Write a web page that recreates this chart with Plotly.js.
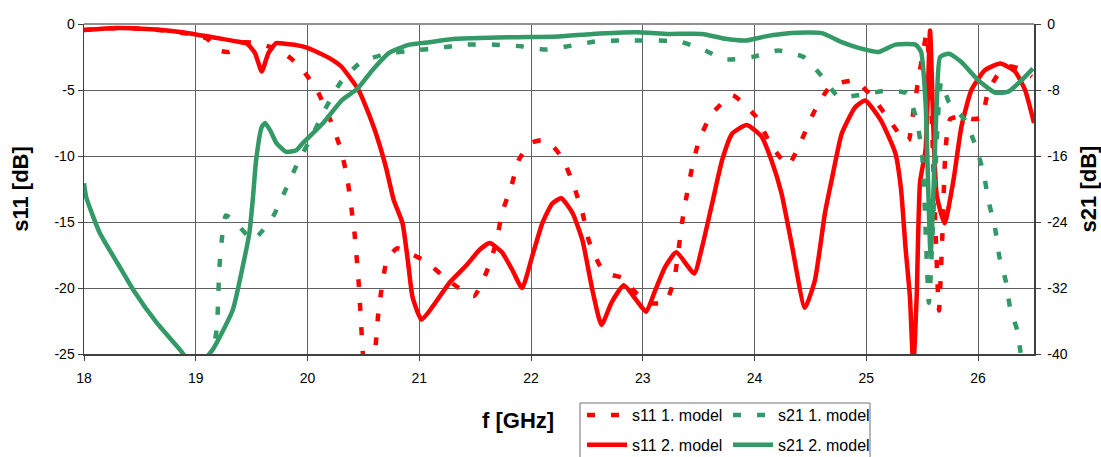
<!DOCTYPE html>
<html>
<head>
<meta charset="utf-8">
<script src="https://cdn.plot.ly/plotly-3.0.1.min.js"></script>
<style>html,body{margin:0;padding:0;background:#fff;}#chart{width:1101px;height:457px;}</style>
</head>
<body>
<div id="chart"></div>
<script>
// ---- data ----
const seriesNames = ["s11 1. model", "s21 1. model", "s11 2. model", "s21 2. model"];

const s11m1_f = [18, 18.3, 18.6, 18.9, 19.1, 19.2, 19.3, 19.42, 19.54, 19.65, 19.75, 19.85, 19.95, 20.09, 20.21, 20.29, 20.35, 20.42, 20.46, 20.49, 20.52, 20.58, 20.61, 20.63, 20.66, 20.71, 20.8, 20.9, 21.06, 21.27, 21.49, 21.61, 21.69, 21.74, 21.82, 21.89, 22.0, 22.1, 22.2, 22.29, 22.38, 22.46, 22.52, 22.63, 22.72, 22.81, 22.92, 23.03, 23.2, 23.28, 23.35, 23.39, 23.44, 23.5, 23.61, 23.8, 24.01, 24.15, 24.3, 24.42, 24.53, 24.68, 24.9, 25.05, 25.2, 25.35, 25.38, 25.42, 25.46, 25.51, 25.54, 25.58, 25.62, 25.65, 25.68, 25.71, 25.75, 25.85, 25.95, 26.03, 26.09, 26.18, 26.27, 26.38, 26.48];
const s11m1_v = [-0.45, -0.3, -0.4, -0.7, -1.1, -2.0, -2.1, -1.4, -1.45, -1.7, -2.0, -2.6, -3.4, -5.1, -7.4, -9.3, -11.4, -15.8, -19.9, -24.2, -27, -27, -24.3, -22.2, -20.2, -17.9, -17.0, -17.3, -18.0, -19.5, -20.6, -18.6, -16.5, -14.3, -12.4, -10.3, -9.0, -8.8, -9.3, -10.3, -12.2, -14.3, -16.5, -18.5, -19.0, -19.2, -20.2, -21.1, -21.1, -19.4, -15.1, -13.1, -10.9, -8.9, -6.9, -5.4, -7.0, -9.2, -10.7, -8.8, -6.7, -4.7, -4.3, -5.5, -7.2, -8.9, -8.8, -6.7, -4.5, -2.0, -0.7, -6.0, -16.0, -21.7, -16.0, -9.3, -7.2, -7.0, -7.2, -7.1, -5.1, -3.8, -3.2, -3.4, -4.0];

const s21m1_f = [19.14, 19.19, 19.2, 19.21, 19.23, 19.27, 19.36, 19.51, 19.6, 19.69, 19.8, 19.91, 20.05, 20.17, 20.3, 20.48, 20.71, 20.96, 21.18, 21.42, 21.67, 21.91, 22.13, 22.37, 22.59, 22.83, 23.08, 23.32, 23.54, 23.74, 23.98, 24.21, 24.44, 24.6, 24.75, 24.95, 25.17, 25.36, 25.45, 25.5, 25.56, 25.61, 25.67, 25.74, 25.88, 25.97, 26.05, 26.09, 26.15, 26.19, 26.25, 26.29, 26.35, 26.38, 26.42];
const s21m1_v = [-41, -36.7, -33.5, -29.8, -26.5, -23.2, -24.1, -26.2, -25.0, -23.4, -20.2, -16.9, -13.3, -10.0, -7.0, -4.6, -3.6, -3.2, -2.9, -2.5, -2.5, -2.7, -3.1, -2.6, -2.1, -2.0, -2.0, -2.1, -3.1, -4.3, -4.0, -3.2, -4.0, -6.3, -8.8, -8.6, -8.1, -8.4, -11.6, -16.0, -33.8, -20.0, -7.0, -9.5, -11.6, -14.5, -18.1, -21.3, -24.6, -28.2, -31.3, -34.7, -37.1, -39.8, -42];

const s11m2_f = [18, 18.3, 18.6, 18.86, 19.15, 19.35, 19.46, 19.53, 19.59, 19.65, 19.72, 19.8, 19.9, 20.0, 20.08, 20.2, 20.3, 20.45, 20.5, 20.6, 20.7, 20.77, 20.85, 20.9, 20.94, 21.02, 21.12, 21.27, 21.42, 21.54, 21.63, 21.74, 21.83, 21.92, 22.01, 22.1, 22.19, 22.27, 22.37, 22.46, 22.55, 22.63, 22.72, 22.83, 22.94, 23.03, 23.11, 23.2, 23.3, 23.46, 23.53, 23.62, 23.71, 23.8, 23.93, 24.06, 24.15, 24.24, 24.33, 24.45, 24.54, 24.63, 24.69, 24.78, 24.9, 24.99, 25.13, 25.26, 25.31, 25.35, 25.39, 25.42, 25.45, 25.48, 25.53, 25.57, 25.6, 25.63, 25.7, 25.78, 25.85, 25.94, 26.06, 26.2, 26.33, 26.42, 26.5];
const s11m2_v = [-0.45, -0.3, -0.4, -0.6, -1.0, -1.3, -1.5, -2.2, -3.6, -2.2, -1.45, -1.5, -1.6, -1.8, -2.1, -2.6, -3.2, -4.9, -5.8, -8.0, -10.8, -13.3, -15.1, -18.1, -20.7, -22.4, -21.4, -19.6, -18.3, -17.1, -16.6, -17.3, -18.6, -20.0, -17.6, -15.1, -13.6, -13.2, -14.3, -16.4, -20.2, -22.8, -21.1, -19.8, -20.9, -21.8, -20.2, -18.4, -17.3, -18.9, -16.9, -13.6, -10.3, -8.3, -7.65, -8.5, -10.3, -12.8, -16.6, -21.5, -19.4, -14.3, -11.8, -8.3, -6.3, -5.8, -7.3, -9.8, -12.5, -16.9, -20.7, -26, -20.7, -12.0, -9.5, -0.5, -8.0, -13.0, -15.1, -11.8, -7.8, -5.0, -3.5, -3.0, -3.6, -5.0, -7.5];

const s21m2_f = [18, 18.02, 18.14, 18.3, 18.44, 18.65, 18.86, 18.95, 19.05, 19.15, 19.33, 19.42, 19.48, 19.51, 19.54, 19.59, 19.62, 19.67, 19.72, 19.81, 19.9, 19.96, 20.14, 20.31, 20.45, 20.58, 20.73, 20.91, 21.09, 21.33, 21.83, 22.25, 22.55, 22.94, 23.23, 23.53, 23.74, 23.92, 24.1, 24.33, 24.6, 24.78, 24.93, 25.02, 25.11, 25.26, 25.44, 25.49, 25.53, 25.575, 25.63, 25.66, 25.74, 25.85, 26.0, 26.15, 26.27, 26.39, 26.49];
const s21m2_v = [-19.3, -21.0, -25.3, -29.0, -32.2, -36.2, -39.5, -41, -41, -39.5, -34.7, -29.4, -25.3, -21.3, -16.5, -12.5, -12.0, -13.0, -14.4, -15.5, -15.3, -14.4, -12.0, -9.2, -7.8, -5.6, -3.5, -2.5, -2.2, -1.8, -1.6, -1.5, -1.2, -1.0, -1.2, -1.2, -1.8, -2.0, -1.5, -1.1, -1.1, -2.2, -2.9, -3.2, -3.4, -2.5, -2.5, -3.4, -9.6, -28, -9.6, -4.0, -3.6, -4.6, -6.8, -8.3, -8.2, -6.8, -5.4];

const xTicks = [18, 19, 20, 21, 22, 23, 24, 25, 26];
const y1Ticks = [0, -5, -10, -15, -20, -25];
const y2Ticks = [0, -8, -16, -24, -32, -40];

// ---- styling ----
const RED = "#FF0000", GREEN = "#339966";
const FONT = "Arial, 'Liberation Sans', sans-serif";
const DASH = "8px,16px";

function tr(name, f, v, color, dash, yaxis, legend, group) {
  return {
    type: "scatter", mode: "lines", name: name, x: f, y: v, yaxis: yaxis,
    legend: legend, legendgroup: group,
    line: {color: color, width: 4.5, dash: dash, shape: "spline", smoothing: 0.5},
    hoverinfo: "skip"
  };
}

const data = [
  tr(seriesNames[0], s11m1_f, s11m1_v, RED, DASH, "y", "legend", "a"),
  tr(seriesNames[2], s11m2_f, s11m2_v, RED, "solid", "y", "legend", "b"),
  tr(seriesNames[1], s21m1_f, s21m1_v, GREEN, DASH, "y2", "legend2", "c"),
  tr(seriesNames[3], s21m2_f, s21m2_v, GREEN, "solid", "y2", "legend2", "d")
];

const L = 84, R = 1034, T = 24, B = 354, W = 1101, H = 457;
const px = x => (x - L) / (R - L);
const py = y => (B - y) / (B - T);

const legendCommon = {
  orientation: "v", bgcolor: "rgba(0,0,0,0)", borderwidth: 0,
  font: {family: FONT, size: 16, color: "#000"},
  tracegroupgap: 6, itemwidth: 40, maxheight: 200,
  xanchor: "left", yanchor: "top", y: py(398)
};

const layout = {
  width: W, height: H,
  margin: {l: L, r: W - R, t: T, b: H - B, pad: 0, autoexpand: false},
  paper_bgcolor: "#fff", plot_bgcolor: "#fff",
  font: {family: FONT, size: 14, color: "#000"},
  showlegend: true,
  xaxis: {
    range: [18, 26.5], tickvals: xTicks, ticktext: xTicks.map(String),
    showgrid: true, gridcolor: "#606060", gridwidth: 1,
    showline: true, linecolor: "#404040", linewidth: 1.5,
    ticks: "outside", ticklen: 5, tickcolor: "#404040", ticklabelstandoff: 6,
    zeroline: false, tickfont: {family: FONT, size: 14}, automargin: false
  },
  yaxis: {
    range: [-25, 0], tickvals: y1Ticks, ticktext: y1Ticks.map(String),
    showgrid: true, gridcolor: "#606060", gridwidth: 1,
    showline: true, linecolor: "#404040", linewidth: 1.5,
    ticks: "outside", ticklen: 5, tickcolor: "#404040",
    zeroline: false, tickfont: {family: FONT, size: 14}, automargin: false,
    title: {text: "s11 [dB]", font: {family: FONT, size: 22, weight: "bold"}, standoff: 20}
  },
  yaxis2: {
    overlaying: "y", side: "right", anchor: "x",
    range: [-40, 0], tickvals: y2Ticks, ticktext: y2Ticks.map(String),
    showgrid: false, showline: true, linecolor: "#404040", linewidth: 1.5,
    ticks: "outside", ticklen: 5, tickcolor: "#404040", ticklabelstandoff: 4,
    zeroline: false, tickfont: {family: FONT, size: 14}, automargin: false,
    title: {text: "s21 [dB]", font: {family: FONT, size: 22, weight: "bold"}, standoff: 14}
  },
  legend: Object.assign({}, legendCommon, {x: px(582)}),
  legend2: Object.assign({}, legendCommon, {x: px(728)}),
  shapes: [
    {type: "line", xref: "paper", yref: "paper", x0: 0, x1: 1, y0: 1, y1: 1,
     line: {color: "#909090", width: 2}},
    {type: "rect", xref: "paper", yref: "paper", x0: px(580), x1: px(870), y0: py(403), y1: py(470),
     line: {color: "#707070", width: 1}, fillcolor: "rgba(0,0,0,0)"}
  ],
  annotations: [
    {text: "f [GHz]", xref: "paper", yref: "paper", x: px(518), y: py(420),
     xanchor: "center", yanchor: "middle", showarrow: false,
     font: {family: FONT, size: 22, weight: "bold", color: "#000"}}
  ]
};

Plotly.newPlot("chart", data, layout, {displayModeBar: false, staticPlot: true});
</script>
</body>
</html>
